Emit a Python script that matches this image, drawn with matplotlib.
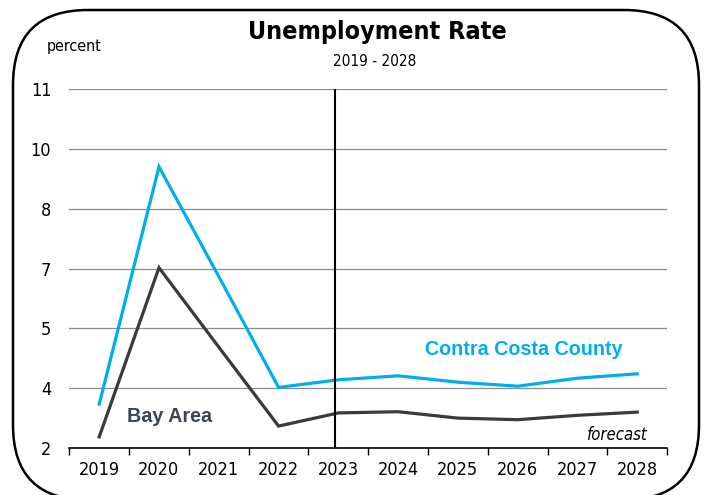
import numpy as np
import matplotlib
matplotlib.use('Agg')
import matplotlib.pyplot as plt
from matplotlib import font_manager
from matplotlib.patches import FancyBboxPatch
from matplotlib.transforms import IdentityTransform

# Unemployment rate, actual and forecast (percent)
years = [2019, 2020, 2021, 2022, 2023, 2024, 2025, 2026, 2027, 2028]
contra_costa = [3.1, 9.05, 6.3, 3.52, 3.71, 3.81, 3.65, 3.55, 3.75, 3.86]
bay_area = [2.28, 6.52, 4.53, 2.55, 2.88, 2.91, 2.75, 2.71, 2.82, 2.9]
forecast_start = 2023

y_ticks = [2, 3.5, 5, 6.5, 8, 9.5, 11]
y_tick_labels = ['2', '4', '5', '7', '8', '10', '11']

# pick a narrow face if one is installed
fonts = font_manager.fontManager.ttflist
names = {f.name for f in fonts}
if 'Liberation Sans Narrow' in names:
    narrow = dict(family=['Liberation Sans Narrow', 'DejaVu Sans'])
elif any(f.name == 'DejaVu Sans' and f.stretch == 'condensed' for f in fonts):
    narrow = dict(family=['DejaVu Sans'], stretch='condensed')
else:
    narrow = dict(family=['Liberation Sans', 'DejaVu Sans'])
plain = dict(family=['Liberation Sans', 'DejaVu Sans'])

fig = plt.figure(figsize=(7.08, 4.95), dpi=100)
ax = fig.add_axes([0.0979, 0.0949, 0.8444, 0.7253])

x = np.arange(len(years))
ax.plot(x, contra_costa, color='#00AEEF', lw=2.3, solid_joinstyle='miter', zorder=3)
ax.plot(x, bay_area, color='#3A3A3A', lw=2.3, solid_joinstyle='miter', zorder=3)
ax.axvline(years.index(forecast_start) - 0.05, color='black', lw=1.5, zorder=4)

ax.set_xlim(-0.5, len(years) - 0.5)
ax.set_ylim(2, 11)

ax.set_yticks(y_ticks)
ax.set_yticklabels(y_tick_labels, fontsize=13, **narrow)
ax.tick_params(axis='y', length=0, pad=13)
ax.grid(axis='y', color='#8C8C8C', lw=0.9)
ax.set_axisbelow(True)

ax.set_xticks(x)
ax.set_xticklabels([str(y) for y in years], fontsize=13, **narrow)
ax.set_xticks(np.arange(-0.5, len(years)), minor=True)
ax.tick_params(axis='x', which='major', length=0, pad=9)
ax.tick_params(axis='x', which='minor', length=5, width=1, direction='out', color='black')

for side in ['left', 'right', 'top']:
    ax.spines[side].set_visible(False)
ax.spines['bottom'].set_color('black')
ax.spines['bottom'].set_linewidth(1.2)

ax.text(7.11, 4.33, 'Contra Costa County', color='#00AEEF', fontsize=14.2,
        fontweight='bold', ha='center', va='baseline', **plain)
ax.text(1.185, 2.65, 'Bay Area', color='#3D4453', fontsize=14.2,
        fontweight='bold', ha='center', va='baseline', **plain)
ax.text(9.18, 2.33, 'forecast', fontsize=12, style='italic',
        ha='right', va='center', **narrow)

fig.text(377 / 708, 1 - 32 / 495, 'Unemployment Rate', fontsize=18, fontweight='bold',
         ha='center', va='center', **narrow)
fig.text(375 / 708, 1 - 62 / 495, '2019 - 2028', fontsize=11,
         ha='center', va='center', **narrow)
fig.text(47 / 708, 1 - 46 / 495, 'percent', fontsize=11.5,
         ha='left', va='center', **narrow)

# rounded frame around the whole chart (pixel coordinates)
frame = FancyBboxPatch((13, -5), 686, 490, boxstyle='round,pad=0,rounding_size=75',
                       transform=IdentityTransform(), fill=False, ec='black', lw=1.8,
                       clip_on=False)
fig.patches.append(frame)

fig.savefig('out.png', dpi=100)
